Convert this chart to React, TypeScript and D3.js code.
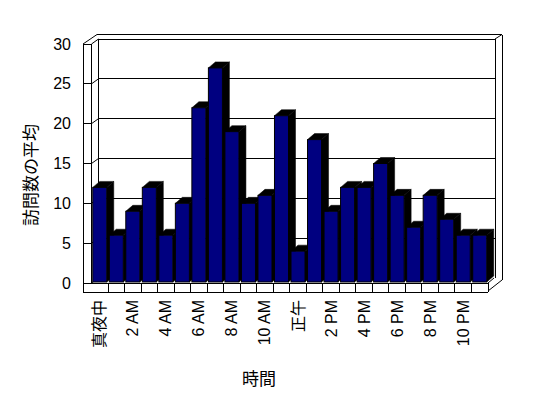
import React from 'react';
import * as d3 from 'd3';

// hourly categories, label shown every second hour
const hours = [
  '真夜中', '', '2 AM', '', '4 AM', '', '6 AM', '', '8 AM', '', '10 AM', '',
  '正午', '', '2 PM', '', '4 PM', '', '6 PM', '', '8 PM', '', '10 PM', ''
];
const visits = [12, 6, 9, 12, 6, 10, 22, 27, 19, 10, 11, 21, 4, 18, 9, 12, 12, 15, 11, 7, 11, 8, 6, 6];
const yTicks = [0, 5, 10, 15, 20, 25, 30];
const yTitle = '訪問数の平均';
const xTitle = '時間';

const font = '"Liberation Sans", Arial, "Noto Sans CJK JP", sans-serif';
const cjkFont = '"Noto Sans CJK JP", sans-serif';

export default function App() {
  const width = 548;
  const height = 398;

  // front plane of the 3-D box
  const frontLeft = 91.5;
  const frontRight = 488;
  const wallOuter = 83;
  const floorBottom = 292;
  // offset from the front plane to the back wall
  const dx = 7;
  const dy = -5;
  // bar depth
  const bdx = 7;
  const bdy = -6;

  const x = d3.scaleBand<number>()
    .domain(d3.range(hours.length))
    .range([frontLeft, frontRight]);
  const y = d3.scaleLinear().domain([0, 30]).range([283, 44]);

  const inset = 1.25;
  const barW = x.bandwidth() - inset * 2;

  const backLeft = frontLeft + dx;
  const backRight = frontRight + dx;
  const outerTop = y(30) + dy - 4.5;
  const outerRight = backRight + 7;

  const line = (x1: number, y1: number, x2: number, y2: number, key: string) => (
    <line key={key} x1={x1} y1={y1} x2={x2} y2={y2} stroke="#000" strokeWidth={1} />
  );

  return (
    <svg width={width} height={height} style={{ position: 'absolute', left: 0, top: 0, background: '#fff' }}>
      <g shapeRendering="crispEdges">
        {/* back wall gridlines */}
        {yTicks.filter(t => t > 0).map(t =>
          line(backLeft, y(t) + dy, backRight, y(t) + dy, `grid-${t}`)
        )}
        {/* back wall outline */}
        {line(backLeft, y(30) + dy, backLeft, y(0) + dy, 'bw-left')}
        {line(backRight, y(30) + dy, backRight, y(0) + dy, 'bw-right')}
        {line(backLeft - 1.5, outerTop, outerRight, outerTop, 'bw-top')}
        {line(outerRight, outerTop, outerRight, y(0) + dy + 2, 'bw-outer-right')}

        {/* left wall */}
        {line(wallOuter, y(30), wallOuter, floorBottom, 'lw-outer')}
        {line(frontLeft, y(30), frontLeft, y(0), 'lw-inner')}
        {line(wallOuter, y(30), frontLeft, y(30), 'lw-top')}
        {yTicks.map(t => line(wallOuter, y(t), frontLeft, y(t), `tick-${t}`))}

        {/* floor front face */}
        {line(frontLeft, y(0), frontRight, y(0), 'fl-top')}
        {line(wallOuter, floorBottom, frontRight, floorBottom, 'fl-bottom')}
        {line(frontRight, y(0), frontRight, floorBottom, 'fl-right')}
        {d3.range(1, hours.length).map(i =>
          line(x(i)!, y(0), x(i)!, floorBottom, `div-${i}`)
        )}
      </g>

      {/* diagonal edges */}
      <g stroke="#000" strokeWidth={1} fill="none">
        {yTicks.map(t => (
          <line key={`diag-${t}`} x1={frontLeft} y1={y(t)} x2={backLeft} y2={y(t) + dy} />
        ))}
        <line x1={wallOuter} y1={y(30)} x2={backLeft - 1.5} y2={outerTop} />
        <line x1={backRight} y1={y(30) + dy} x2={outerRight} y2={outerTop} />
        <line x1={frontRight} y1={y(0)} x2={backRight - 1} y2={y(0) + dy} />
        <line x1={frontRight} y1={floorBottom - 1} x2={outerRight} y2={y(0) + dy + 2} />
      </g>

      {/* bars */}
      <g>
        {visits.map((v, i) => {
          const x0 = x(i)! + inset;
          const x1 = x0 + barW;
          const yt = y(v);
          const yb = y(0) - 1;
          const side = `M${x1},${yt} L${x1 + bdx},${yt + bdy} L${x1 + bdx},${yb + bdy} L${x1},${yb} Z`;
          const top = `M${x0},${yt} L${x0 + bdx},${yt + bdy} L${x1 + bdx},${yt + bdy} L${x1},${yt} Z`;
          return (
            <g key={`bar-${i}`}>
              <path d={side} fill="#000" stroke="#000" strokeWidth={0.5} />
              <path d={top} fill="#000" stroke="#000" strokeWidth={0.5} />
              <rect x={x0} y={yt} width={barW} height={yb - yt} fill="#000080" stroke="#000" strokeWidth={1} />
            </g>
          );
        })}
      </g>

      {/* y tick labels */}
      {yTicks.map(t => (
        <text key={`yl-${t}`} x={71} y={y(t)} textAnchor="end" dominantBaseline="central"
          fontFamily={font} fontSize={16} fill="#000">{t}</text>
      ))}

      {/* x tick labels */}
      {hours.map((h, i) => h ? (
        <text key={`xl-${i}`} transform={`translate(${x(i)! + x.bandwidth() / 2},300) rotate(-90)`}
          textAnchor="end" dominantBaseline="central" fontFamily={font} fontSize={16} fill="#000">{h}</text>
      ) : null)}

      {/* axis titles */}
      <text transform="translate(29,175) rotate(-90)" textAnchor="middle" dominantBaseline="central"
        fontFamily={cjkFont} fontSize={17} fill="#000">{yTitle}</text>
      <text x={259} y={377} textAnchor="middle" dominantBaseline="central"
        fontFamily={cjkFont} fontSize={17} fill="#000">{xTitle}</text>
    </svg>
  );
}
